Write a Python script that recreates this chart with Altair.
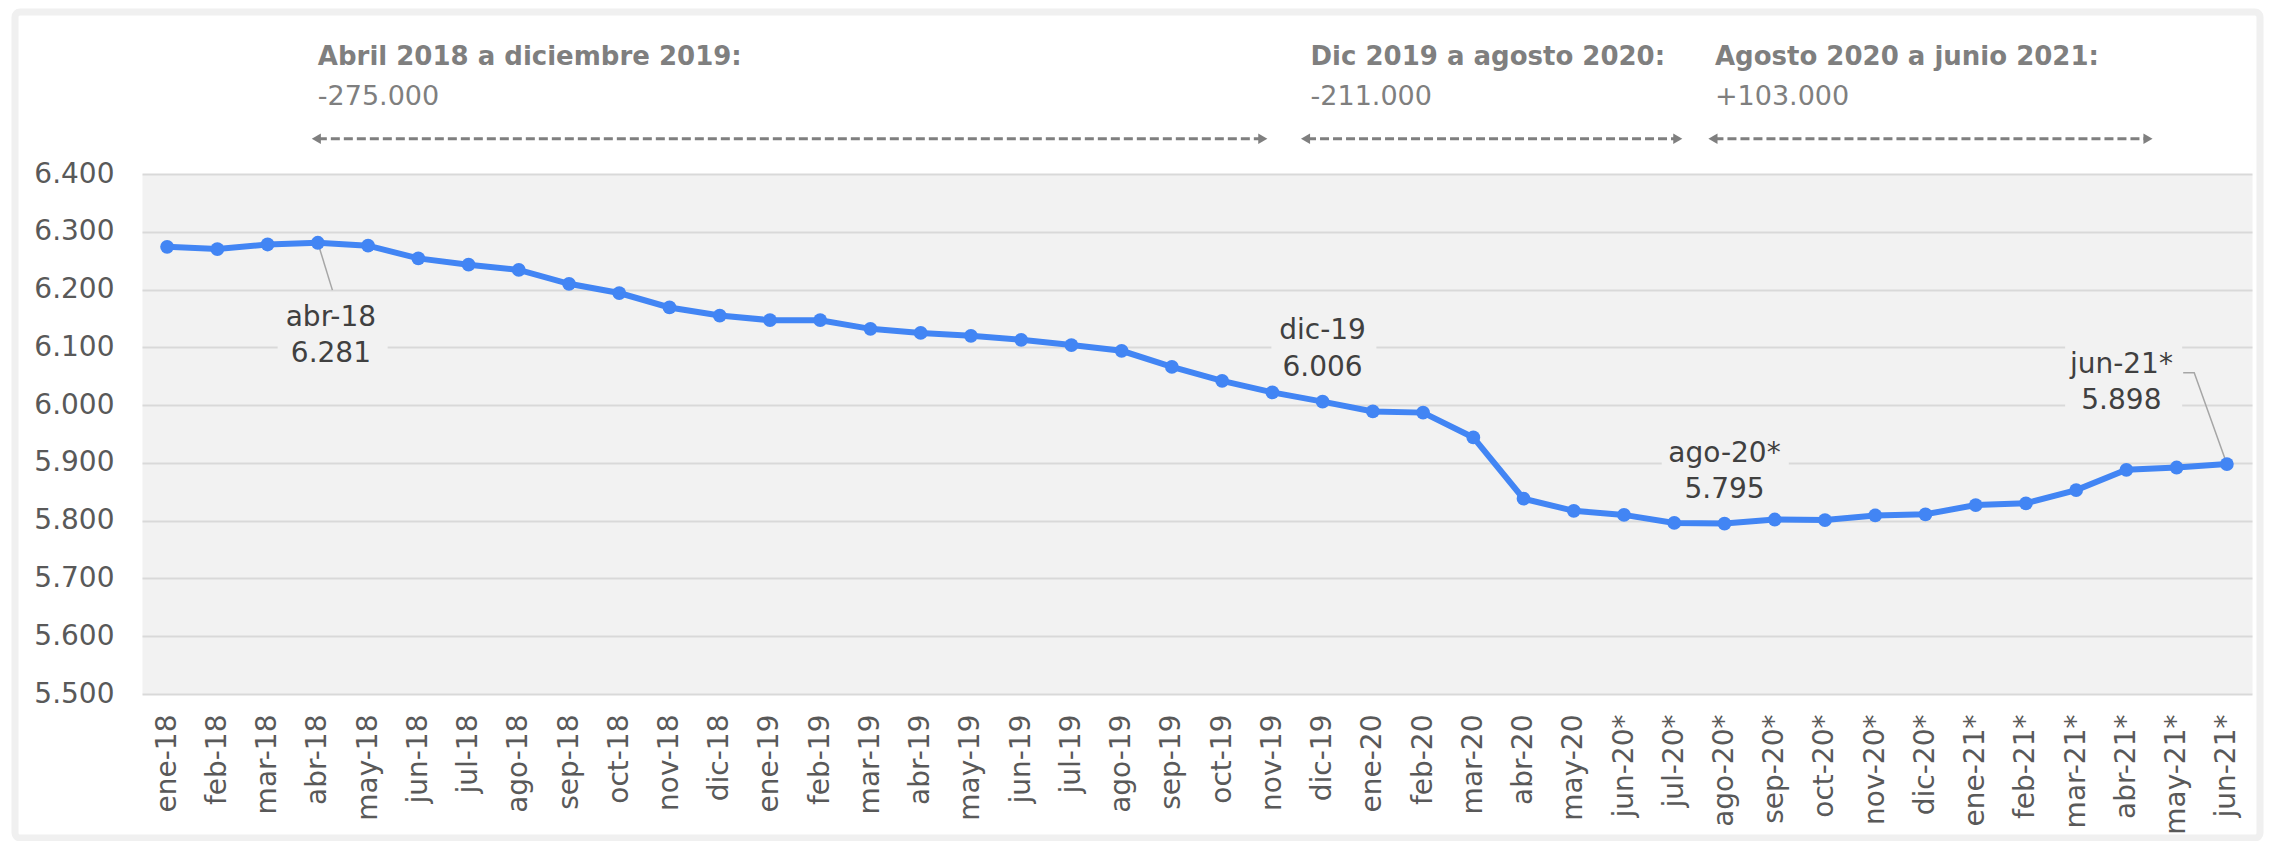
import json
import altair as alt
import pandas as pd

# ---------------- data ----------------
months = ["ene-18", "feb-18", "mar-18", "abr-18", "may-18", "jun-18", "jul-18", "ago-18",
          "sep-18", "oct-18", "nov-18", "dic-18", "ene-19", "feb-19", "mar-19", "abr-19",
          "may-19", "jun-19", "jul-19", "ago-19", "sep-19", "oct-19", "nov-19", "dic-19",
          "ene-20", "feb-20", "mar-20", "abr-20", "may-20", "jun-20*", "jul-20*", "ago-20*",
          "sep-20*", "oct-20*", "nov-20*", "dic-20*", "ene-21*", "feb-21*", "mar-21*",
          "abr-21*", "may-21*", "jun-21*"]
values = [6274, 6270, 6278, 6281, 6276, 6254, 6243, 6234, 6210, 6194, 6169, 6155,
          6147, 6147, 6132, 6125, 6120, 6113, 6104, 6094, 6066, 6042, 6022, 6006,
          5989, 5987, 5944, 5838, 5817, 5810, 5796, 5795, 5802, 5801, 5809, 5811,
          5827, 5830, 5853, 5888, 5892, 5898]
y_ticks = [5500, 5600, 5700, 5800, 5900, 6000, 6100, 6200, 6300, 6400]

label_names = ["abr-18", "dic-19", "ago-20*", "jun-21*"]
label_texts = ["6.281", "6.006", "5.795", "5.898"]

ann_headers = ["Abril 2018 a diciembre 2019:", "Dic 2019 a agosto 2020:", "Agosto 2020 a junio 2021:"]
ann_values = ["-275.000", "-211.000", "+103.000"]

# ---------------- annotation placement (in month-index / value units) ----------------
label_x = [3.26, 23.0, 31.0, 38.9]
label_y = [6137, 6114, 5902, 6056]
box_x1 = [2.20, 21.98, 29.75, 37.78]
box_x2 = [4.39, 24.07, 32.28, 40.11]
box_y1 = [6182, 6161, 5943, 6104]
box_y2 = [6057, 6036, 5827, 5978]

ann_x = [3.0, 22.76, 30.81]
arrow_start = [2.88, 22.57, 30.68]
arrow_end = [21.9, 30.16, 39.52]
ann_header_y = 6589
ann_value_y = 6519
arrow_y = 6461

leader_x = [3, 3.29, 41, 40.35, 40.13]
leader_y = [6281, 6199, 5898, 6056, 6056]
leader_g = ["a", "a", "b", "b", "b"]

FONT = "DejaVu Sans"
BLUE = "#4285f4"

n = len(months)
label_expr = "[" + ",".join(json.dumps(m) for m in months) + "][datum.value]"

xscale = alt.Scale(domain=[-0.5, n - 0.5], nice=False, zero=False)
yscale = alt.Scale(domain=[5500, 6400], nice=False, zero=False)

xaxis = alt.Axis(values=list(range(n)), labelExpr=label_expr, labelAngle=270,
                 labelFont=FONT, labelFontSize=28, labelColor="#595959", labelPadding=20,
                 labelOverlap=False, labelFlush=False, labelBound=False,
                 ticks=False, domain=False, grid=False, title=None)
yaxis = alt.Axis(values=y_ticks, labelExpr="replace(format(datum.value, ','), ',', '.')",
                 labelFont=FONT, labelFontSize=28, labelColor="#595959", labelPadding=28,
                 ticks=False, domain=False, grid=True, gridColor="#d9d9d9", gridWidth=2,
                 title=None)


def X(f):
    return alt.X(f"{f}:Q", scale=xscale, axis=xaxis)


def Y(f):
    return alt.Y(f"{f}:Q", scale=yscale, axis=yaxis)


df = pd.DataFrame({"i": list(range(n)), "v": values, "m": months})
lab_df = pd.DataFrame({"x": label_x, "y": label_y, "t1": label_names, "t2": label_texts})
box_df = pd.DataFrame({"x1": box_x1, "x2": box_x2, "y1": box_y1, "y2": box_y2})
ann_df = pd.DataFrame({"x": ann_x, "h": ann_headers, "val": ann_values,
                       "yh": [ann_header_y] * 3, "yv": [ann_value_y] * 3,
                       "xs": [s + 0.12 for s in arrow_start], "xe": [e - 0.12 for e in arrow_end],
                       "hl": [s + 0.09 for s in arrow_start], "hr": [e - 0.09 for e in arrow_end],
                       "ya": [arrow_y] * 3})
lead_df = pd.DataFrame({"x": leader_x, "y": leader_y, "g": leader_g,
                        "o": list(range(len(leader_x)))})

frame = alt.Chart(pd.DataFrame({"a": [0]})).mark_rect(
    fillOpacity=0, stroke="#f0f0f0", strokeWidth=7, cornerRadius=5
).encode(x=alt.value(-127), x2=alt.value(2118), y=alt.value(-162), y2=alt.value(664))

boxes = alt.Chart(box_df).mark_rect(fill="#f2f2f2").encode(
    x=X("x1"), x2="x2", y=Y("y1"), y2="y2")

leaders = alt.Chart(lead_df).mark_line(color="#a6a6a6", strokeWidth=1.5).encode(
    x=X("x"), y=Y("y"), detail="g:N", order="o:Q")

arrows = alt.Chart(ann_df).mark_rule(color="#7f7f7f", strokeWidth=3, strokeDash=[9, 4]).encode(
    x=X("xs"), x2="xe", y=Y("ya"))
head_l = alt.Chart(ann_df).mark_point(shape="triangle-left", filled=True, size=110,
                                      color="#7f7f7f", opacity=1).encode(x=X("hl"), y=Y("ya"))
head_r = alt.Chart(ann_df).mark_point(shape="triangle-right", filled=True, size=110,
                                      color="#7f7f7f", opacity=1).encode(x=X("hr"), y=Y("ya"))

line = alt.Chart(df).mark_line(color=BLUE, strokeWidth=6).encode(x=X("i"), y=Y("v"))
pts = alt.Chart(df).mark_circle(color=BLUE, size=190, opacity=1).encode(x=X("i"), y=Y("v"))

lab1 = alt.Chart(lab_df).mark_text(font=FONT, fontSize=28, color="#404040", align="center",
                                   baseline="alphabetic").encode(x=X("x"), y=Y("y"), text="t1:N")
lab2 = alt.Chart(lab_df).mark_text(font=FONT, fontSize=28, color="#404040", align="center",
                                   baseline="alphabetic", dy=36.5).encode(x=X("x"), y=Y("y"), text="t2:N")

heads = alt.Chart(ann_df).mark_text(font=FONT, fontSize=26, fontWeight="bold", color="#7f7f7f",
                                    align="left", baseline="alphabetic").encode(
    x=X("x"), y=Y("yh"), text="h:N")
vals = alt.Chart(ann_df).mark_text(font=FONT, fontSize=27, color="#7f7f7f",
                                   align="left", baseline="alphabetic").encode(
    x=X("x"), y=Y("yv"), text="val:N")

chart = alt.layer(
    frame, boxes, leaders, arrows, head_l, head_r, line, pts, lab1, lab2, heads, vals
).properties(
    width=2110, height=520,
    autosize=alt.AutoSizeParams(type="none"),
    padding={"left": 134, "top": 166, "right": 12, "bottom": 147},
    background="white",
).configure(font=FONT).configure_view(fill="#f2f2f2", stroke="transparent")

chart.save("out.html", embed_options={"renderer": "svg", "actions": False})
